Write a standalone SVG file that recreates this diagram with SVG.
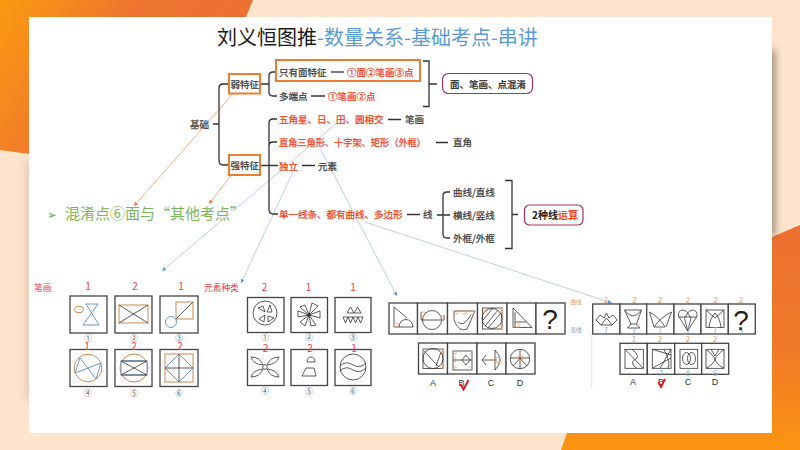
<svg xmlns="http://www.w3.org/2000/svg" width="800" height="450" viewBox="0 0 800 450">
<defs>
<linearGradient id="tl" x1="0" y1="0" x2="1" y2="0.35"><stop offset="0" stop-color="#fb9a10"/><stop offset="0.5" stop-color="#ee7430"/><stop offset="1" stop-color="#ec7034"/></linearGradient>
<linearGradient id="br" x1="0" y1="0" x2="0" y2="1"><stop offset="0" stop-color="#ec7030"/><stop offset="0.55" stop-color="#f07a28"/><stop offset="1" stop-color="#fb9410"/></linearGradient>
<filter id="sh" x="-100%" y="-10%" width="300%" height="120%"><feGaussianBlur stdDeviation="3.500"/></filter>
<marker id="ao" markerWidth="8" markerHeight="8" refX="6" refY="3" orient="auto"><path d="M0 0L6 3L0 6Z" fill="#ed7d31"/></marker>
<marker id="ab" markerWidth="8" markerHeight="8" refX="6" refY="3" orient="auto"><path d="M0 0L6 3L0 6Z" fill="#5b9bd5"/></marker>
</defs>
<style>
text{font-family:"Noto Sans CJK SC","Liberation Sans",sans-serif}
.t{font-size:9.500px;fill:#404040;stroke:#404040;stroke-width:.25}
.r{font-size:9.500px;fill:#f0431e;stroke:#f0431e;stroke-width:.25}
.br{fill:none;stroke:#333;stroke-width:1.300}
.ob{fill:#fff;stroke:#ed7d31;stroke-width:2}
.pill{fill:#fff;stroke:#a5325a;stroke-width:1.200}
.con{fill:none;stroke-width:.7}
.co{stroke:#f08a50;marker-end:url(#ao)}
.cb{stroke:#9dbce0;marker-end:url(#ab)}
.cell{fill:#fff;stroke:#444;stroke-width:1.300}
.s{fill:none;stroke:#333;stroke-width:.8}
.sb{fill:none;stroke:#6b9bc8;stroke-width:1}
.so{fill:none;stroke:#c98a50;stroke-width:1}
.oc{fill:none;stroke:#e8a070;stroke-width:.8}
.n{font-size:7.500px;fill:#555;text-anchor:middle}
.num{font-size:10px;fill:#e8404a;text-anchor:middle}
.lab{font-size:8.700px;fill:#e8404a}
.l2{font-size:8px;fill:#d9a070;text-anchor:middle}
.l3{font-size:7.500px;fill:#8ab4c8;text-anchor:middle}
.opt{font-size:9px;fill:#333;text-anchor:middle;font-family:"Liberation Sans",sans-serif}
.q{font-size:28px;fill:#222;text-anchor:middle;font-family:"Liberation Sans",sans-serif}
.chk{fill:none;stroke:#e01020;stroke-width:1.800}
</style>
<rect width="800" height="450" fill="#fde4cd"/>
<path d="M0 0H253L246 17H29V154L0 150Z" fill="url(#tl)"/>
<path d="M800 225V450H561L567 433H772V237Z" fill="url(#br)"/>
<rect x="766" y="50" width="10" height="186" fill="#6b5a48" opacity=".55" filter="url(#sh)"/>
<rect x="25" y="160" width="6" height="240" fill="#c09a70" opacity=".35" filter="url(#sh)"/>
<rect x="29" y="17" width="743" height="416" fill="#fff"/>
<text x="217" y="45" font-size="20" fill="#1a1a1a">刘义恒图推<tspan fill="#5b9bd5">-数量关系-基础考点-串讲</tspan></text>
<g id="green"><text x="47" y="219" font-size="12" fill="#6fae50" style="font-family:'DejaVu Sans',sans-serif">➢</text><text x="65" y="219" font-size="15" fill="#7cb55c">混淆点⑥面与“其他考点”</text></g>

<g id="connectors">
<path class="con co" d="M238 88L134 206"/>
<path class="con co" d="M233 173L209 204"/>
<path class="con cb" d="M337 123L162 271"/>
<path class="con cb" d="M293 172L241 283"/>
<path class="con cb" d="M320 148L397 296"/>
<path class="con cb" d="M365 222L612 303"/>
<path class="br" d="M228 84H223Q219 84 219 88V160Q219 165 223 165H228M213 124H219"/>
<path class="br" d="M276 72H273Q269 72 269 76V92Q269 96 273 96H277M261 84H269"/>
<path class="br" d="M277 119H273Q269 119 269 123V209Q269 214 273 214H278M277 142H273Q269 142 269 146M260 165.500H278"/>
<path class="br" d="M423 61H429V106.500H423M429 84H437"/>
<path class="br" d="M450 192H447Q443 192 443 196V234Q443 238 447 238H450M437 215H450"/>
<path class="br" d="M505 180.500H512V248.500H505M512 214.500H518"/>
<path class="br" d="M311 96H325M388 119.500H401M436 142.500H448M302 165.500H315M407 214.500H420"/>
</g>

<g id="n-jichu"><text class="t" x="190" y="128">基础</text></g>
<g id="n-weak"><rect class="ob" x="229" y="74" width="31" height="19.500"/><text class="t" x="230.500" y="88">弱特征</text></g>
<g id="n-strong"><rect class="ob" x="229" y="155" width="31" height="20"/><text class="t" x="230.500" y="169">强特征</text></g>
<g id="n-only"><rect class="ob" x="276" y="60" width="144" height="21"/><text class="t" x="279" y="76">只有面特征</text><line class="br" x1="331" y1="72" x2="344" y2="72"/><text class="r" x="347" y="76">①面②笔画③点</text></g>
<g id="n-multi"><text class="t" x="279" y="100">多端点</text><text class="r" x="328" y="100">①笔画②点</text></g>
<g id="n-pill1"><rect class="pill" x="442.500" y="73.500" width="90" height="20" rx="6"/><text class="t" x="450" y="87.500" style="fill:#222;stroke:#222">面、笔画、点混淆</text></g>
<g id="n-s1"><text class="r" x="279" y="123">五角星、日、田、圆相交</text><text class="t" x="405" y="123">笔画</text></g>
<g id="n-s2"><text class="r" x="279" y="146" style="font-size:9.200px">直角三角形、十字架、矩形（外框）</text><text class="t" x="453" y="146">直角</text></g>
<g id="n-s3"><text class="r" x="279" y="169.500">独立</text><text class="t" x="318" y="169.500">元素</text></g>
<g id="n-s4"><text class="r" x="279" y="218">单一线条、都有曲线、多边形</text><text class="t" x="423" y="218">线</text></g>
<g id="n-l1"><text class="t" x="453" y="195.500">曲线/直线</text></g>
<g id="n-l2"><text class="t" x="453" y="218.500">横线/竖线</text></g>
<g id="n-l3"><text class="t" x="453" y="242">外框/外框</text></g>
<g id="n-pill2"><rect class="pill" x="524.500" y="205" width="58.500" height="20" rx="5"/><text x="532" y="219" font-size="10" font-weight="700" fill="#222">2种线<tspan fill="#f0431e">运算</tspan></text></g>

<g id="p1">
<text class="lab" x="34" y="291">笔画</text>
<text class="num" x="88" y="290">1</text><text class="num" x="135" y="290">2</text><text class="num" x="181" y="290">1</text>
<rect class="cell" x="70" y="296" width="37" height="37"/><rect class="cell" x="115" y="296" width="37" height="37"/><rect class="cell" x="160" y="296" width="38" height="37"/>
<rect class="cell" x="70" y="349.500" width="37" height="37"/><rect class="cell" x="115" y="349.500" width="37" height="37"/><rect class="cell" x="160" y="349.500" width="38" height="37"/>
<path class="sb" d="M86 304H98L83 325H99Z"/><ellipse class="so" cx="79" cy="309.500" rx="4.500" ry="3.200"/>
<rect class="so" x="119" y="305" width="29" height="18"/><path class="s" d="M119 305L148 323M148 305L119 323"/>
<rect class="so" x="176" y="302" width="17" height="17"/><path class="s" d="M176 319L193 302"/><circle class="sb" cx="171" cy="322" r="5.500"/>
<circle class="so" cx="88" cy="368" r="13.800"/><path class="sb" d="M80 358L75 373L101 363L96 379Z"/>
<circle class="so" cx="134" cy="368" r="14"/><rect class="sb" x="121" y="361" width="26" height="14"/><path class="s" d="M121 361L147 375M147 361L121 375M121 361H147M121 375H147"/>
<rect class="so" x="165" y="354" width="28" height="28"/><path class="sb" d="M179 354L193 368L179 382L165 368Z"/><path class="s" d="M179 354V382M165 368H193"/>
<text class="n" x="88" y="341">①</text><text class="n" x="134" y="341">②</text><text class="n" x="179" y="341">③</text>
<text class="n" x="88" y="396">④</text><text class="n" x="134" y="396">⑤</text><text class="n" x="179" y="396">⑥</text>
<text class="num" x="87" y="350">1</text><text class="num" x="134" y="350">2</text><text class="num" x="180" y="350">2</text>
</g>

<g id="p2">
<text class="lab" x="204" y="291">元素种类</text>
<text class="num" x="264.500" y="291">2</text><text class="num" x="308.500" y="291">1</text><text class="num" x="353" y="291">1</text>
<rect class="cell" x="247.500" y="297.500" width="36.500" height="35"/><rect class="cell" x="291" y="297.500" width="36.500" height="35"/><rect class="cell" x="335" y="297.500" width="36" height="35"/>
<rect class="cell" x="247.500" y="349.500" width="36.500" height="36"/><rect class="cell" x="291" y="349.500" width="36.500" height="36"/><rect class="cell" x="335" y="349.500" width="36" height="36"/>
<circle class="s" cx="265" cy="313" r="12"/><path class="s" d="M258 308L263 306L265 312ZM270 305L272 312L267 312ZM259 319L265 315L264 322ZM268 316L274 318L268 322Z"/>
<path class="s" d="M309 315L300 307L305 305ZM309 315L312 303L318 306ZM309 315L320 311L320 318ZM309 315L316 325L311 326ZM309 315L305 326L300 322ZM309 315L298 317L298 311Z"/><circle cx="309" cy="315" r="1.500" fill="#222"/>
<path class="s" d="M347 313L350.500 307L354 313ZM354 313L357.500 307L361 313ZM343 317H348L345.500 323ZM348 317H353L350.500 323ZM353 317H358L355.500 323ZM358 317H363L360.500 323Z"/>
<circle class="s" cx="265" cy="367" r="2.300"/><path class="s" d="M263 365Q253 364 251 357Q260 357 263 365ZM267 365Q277 364 279 357Q270 357 267 365ZM263 369Q253 370 251 377Q260 377 263 369ZM267 369Q277 370 279 377Q270 377 267 369Z"/>
<path class="s" d="M307 362Q307 357 311 357Q315 357 315 362ZM306 368H314L316 376H302Z"/>
<circle class="s" cx="353" cy="367" r="13"/><path class="s" d="M340 366Q346 360 353 365Q360 369 366 363M340 371Q346 365 353 370Q360 374 366 368"/>
<text class="n" x="265" y="340">①</text><text class="n" x="309" y="340">②</text><text class="n" x="353" y="340">③</text>
<text class="n" x="265" y="394">④</text><text class="n" x="309" y="394">⑤</text><text class="n" x="353" y="394">⑥</text>
<text class="num" x="265.500" y="352">2</text><text class="num" x="310" y="352">2</text><text class="num" x="354" y="352">1</text>
</g>

<g id="p3">
<rect class="cell" x="389" y="303" width="28.500" height="31"/><rect class="cell" x="417.500" y="303" width="30" height="31"/><rect class="cell" x="447.500" y="303" width="30" height="31"/><rect class="cell" x="477.500" y="303" width="29.500" height="31"/><rect class="cell" x="507" y="303" width="29" height="31"/><rect class="cell" x="536" y="303" width="29" height="31"/>
<path class="s" d="M394 307V327H413M394 307L407 318M399 327A7 7.500 0 0 1 413 327"/><rect class="oc" x="394" y="323" width="4" height="4"/>
<circle class="s" cx="432" cy="320" r="9.500"/><path class="s" d="M421 312V320H444V315"/><path class="oc" d="M421 312H425V316H421M441 316H444V320H441"/>
<path class="s" d="M454 311H475L467 329Q459 333 454 320ZM458 322Q463 328 471 315"/><path class="oc" d="M454 311H458V314H454M462 311H466V314H462M470 311H474V314H470"/>
<rect class="s" x="482.500" y="308" width="19.500" height="21"/><circle class="s" cx="492" cy="318.500" r="10"/><path class="s" d="M485 326L498 310M488 328L501 313M483 320L493 308"/><path class="oc" d="M482.500 308H486V312H482.500M498 308H502V312H498M498 325H502V329H498"/>
<path class="s" d="M513 308V327.500H532ZM515 327.500V312M514 322H526"/><rect class="oc" x="514" y="322" width="5" height="5"/>
<text class="q" x="550" y="329">?</text>
<rect class="cell" x="418.500" y="343" width="29" height="31"/><rect class="cell" x="447.500" y="343" width="29.500" height="31"/><rect class="cell" x="477" y="343" width="29" height="31"/><rect class="cell" x="506" y="343" width="29" height="31"/>
<rect class="s" x="423" y="349" width="20" height="19.500"/><circle class="s" cx="433" cy="358.500" r="10"/><path class="s" d="M424 351L439 367M441 352L436 366"/><path class="oc" d="M423 349H426V352H423M440 349H443V352H440M440 365H443V368H440"/>
<rect class="s" x="453" y="351" width="19" height="19"/><path class="s" d="M453 360H472M466 355L470 360L466 365L462 360Z"/><path class="oc" d="M453 351H456V354H453M469 351H472V354H469M453 358H456V362H453M453 367H456V370H453M469 367H472V370H469"/>
<path class="s" d="M482 360H497M486 355L482 360L486 365M495 350Q505 360 495 370Z"/><rect class="oc" x="495" y="357.500" width="5" height="5"/>
<circle class="s" cx="520" cy="359" r="9.700"/><path class="s" d="M510.500 358H529.500M520 349.500V369M520 358L513 366M520 358L527 366"/><rect class="oc" x="518" y="356" width="4.500" height="4"/>
<text class="opt" x="433" y="386">A</text><text class="opt" x="461.500" y="386">B</text><text class="opt" x="491" y="386">C</text><text class="opt" x="520" y="386">D</text>
<path class="chk" d="M460.500 384L463.500 389.500L468.500 380"/>
</g>

<g id="p4">
<line x1="591.700" y1="334" x2="591.700" y2="388" stroke="#d9d9d9" stroke-width=".7"/>
<text x="570.500" y="304" font-size="5.500" fill="#d9a070">曲线</text><text x="570.500" y="332" font-size="5.500" fill="#6b9bc8">直线</text>
<rect class="cell" x="592.700" y="304" width="27.300" height="30"/><rect class="cell" x="620" y="304" width="26.700" height="30"/><rect class="cell" x="646.700" y="304" width="27.300" height="30"/><rect class="cell" x="674" y="304" width="27" height="30"/><rect class="cell" x="701" y="304" width="27.300" height="30"/><rect class="cell" x="728.300" y="304" width="27" height="30"/>
<text class="l2" x="606" y="303">2</text><text class="l2" x="634.500" y="303">2</text><text class="l2" x="660" y="303">2</text><text class="l2" x="688" y="303">2</text><text class="l2" x="715.500" y="303">2</text><text class="l2" x="741" y="303">2</text>
<path class="s" d="M596 320L600 315L604 318L606.500 313L609 318L613 315L617 320L612 325H601ZM601 325L606.500 318L612 325"/>
<path class="s" d="M624.500 310H641.500L636.500 324H631ZM624.500 310Q633 322 641.500 310M627.500 328H640L636.500 324M631 324L627.500 328"/>
<path class="s" d="M649.500 312Q660 318 665 327H654Q660 318 671.500 312L666 327M649.500 312L654 327"/>
<path class="s" d="M687.700 331L678.500 316Q678 310 683 310Q686 310 687.700 313Q689.500 310 692.500 310Q697.500 310 697 316ZM678.500 317H697M687.700 313L684.500 318L687.700 331L691 318Z"/>
<rect class="s" x="706" y="310" width="18" height="17.500"/><path class="s" d="M706 310L715 318L724 310M709 327.500Q710 318 715 313Q720 318 721 327.500"/>
<text class="q" x="741" y="330">?</text>
<text class="l3" x="606" y="333">7</text><text class="l3" x="634" y="333">7</text><text class="l3" x="660" y="333">7</text><text class="l3" x="688" y="333">7</text><text class="l3" x="715" y="333">7</text><text class="l3" x="741" y="336">7</text>
<rect class="cell" x="620" y="343.300" width="27.300" height="31"/><rect class="cell" x="647.300" y="343.300" width="27.400" height="31"/><rect class="cell" x="674.700" y="343.300" width="27" height="31"/><rect class="cell" x="701.700" y="343.300" width="27" height="31"/>
<text class="l2" x="634" y="342">1</text><text class="l2" x="660" y="342">2</text><text class="l2" x="688" y="342">2</text><text class="l2" x="715" y="342">2</text>
<rect class="s" x="625" y="349.300" width="18.300" height="19"/><path class="s" d="M625 349.300L643.300 368.300M632 349.300Q642 357 634 360Q630 364 637 368.300"/>
<rect class="s" x="652.300" y="349.300" width="18.700" height="19"/><path class="s" d="M652.300 349.300L671 355M671 349.300L660 368.300M652.300 368.300L671 358M664 349.300Q671 362 668 368.300"/>
<rect class="s" x="680" y="349.300" width="17.700" height="19"/><ellipse class="s" cx="686.500" cy="358.500" rx="4" ry="6"/><ellipse class="s" cx="691.500" cy="358.500" rx="4" ry="6"/>
<rect class="s" x="706" y="349.300" width="18" height="19"/><path class="s" d="M706 349.300Q714 356 715 359Q714 364 706 368.300M724 349.300Q716 356 715 359Q716 364 724 368.300M711 349.300L715 356L719 349.300"/>
<text class="l3" x="661" y="376">7</text><text class="l3" x="688" y="376">8</text><text class="l3" x="715" y="376">6</text>
<text class="opt" x="633" y="385">A</text><text class="opt" x="661" y="385">B</text><text class="opt" x="688" y="385">C</text><text class="opt" x="715" y="385">D</text>
<path class="chk" d="M658.500 382L661 387L665 379"/>
</g>
</svg>
